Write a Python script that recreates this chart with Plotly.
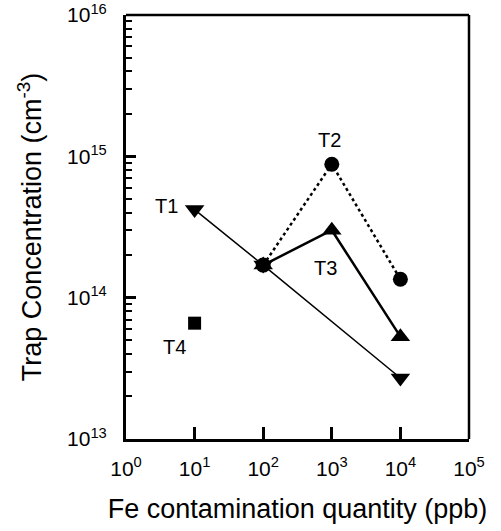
import math
import plotly.graph_objects as go

t1_x = [10, 100, 10000]
t1_y = [4.2e14, 1.7e14, 2.7e13]
t2_x = [100, 1000, 10000]
t2_y = [1.7e14, 8.8e14, 1.35e14]
t3_x = [100, 1000, 10000]
t3_y = [1.7e14, 3.0e14, 5.3e13]
t4_x = [10]
t4_y = [6.6e13]

x_tickvals = [1, 10, 100, 1000, 10000, 100000]
x_ticktext = ["10<sup>0</sup>", "10<sup>1</sup>", "10<sup>2</sup>", "10<sup>3</sup>", "10<sup>4</sup>", "10<sup>5</sup>"]
y_tickvals = [1e13, 1e14, 1e15, 1e16]
y_ticktext = ["10<sup>13</sup>", "10<sup>14</sup>", "10<sup>15</sup>", "10<sup>16</sup>"]

# label text, anchor point (data), pixel shift
labels = [("T1", 10, 4.2e14, -28, 4), ("T2", 1000, 8.8e14, -2, 24),
          ("T3", 1000, 3.0e14, -6, -38), ("T4", 10, 6.6e13, -20, -24)]

fig = go.Figure()
fig.add_trace(go.Scatter(x=t1_x, y=t1_y, mode="lines+markers",
                         line=dict(color="black", width=1.5),
                         marker=dict(symbol="triangle-down", size=17, color="black")))
fig.add_trace(go.Scatter(x=t2_x, y=t2_y, mode="lines+markers",
                         line=dict(color="black", width=2.5, dash="dot"),
                         marker=dict(symbol="circle", size=15, color="black")))
fig.add_trace(go.Scatter(x=t3_x, y=t3_y, mode="lines+markers",
                         line=dict(color="black", width=2.5),
                         marker=dict(symbol="triangle-up", size=17, color="black")))
fig.add_trace(go.Scatter(x=t4_x, y=t4_y, mode="markers",
                         marker=dict(symbol="square", size=13, color="black")))

for txt, x, y, sx, sy in labels:
    fig.add_annotation(x=math.log10(x), y=math.log10(y), xref="x", yref="y", text=txt,
                       showarrow=False, xshift=sx, yshift=sy,
                       font=dict(size=20, color="black"))

fig.update_xaxes(type="log", range=[0, 5], tickvals=x_tickvals, ticktext=x_ticktext,
                 ticks="inside", ticklen=12, tickwidth=2.5, tickcolor="black",
                 showline=True, linecolor="black", linewidth=3, showgrid=False,
                 zeroline=False, tickfont=dict(size=21, color="black"), ticklabelstandoff=9,
                 ticklabeloverflow="allow", automargin=False,
                 title=dict(text="Fe contamination quantity (ppb)", font=dict(size=27, color="black"), standoff=20))
fig.update_yaxes(type="log", range=[13, 16], tickvals=y_tickvals, ticktext=y_ticktext,
                 ticks="inside", ticklen=10, tickwidth=2.5, tickcolor="black",
                 minor=dict(ticks="inside", ticklen=6, tickwidth=2, tickcolor="black", dtick="D1", showgrid=False),
                 showline=True, linecolor="black", linewidth=3, showgrid=False,
                 zeroline=False, tickfont=dict(size=21, color="black"), ticklabelstandoff=12,
                 ticklabeloverflow="allow", automargin=False,
                 title=dict(text="Trap Concentration (cm<sup>-3</sup>)", font=dict(size=27, color="black"), standoff=18))

fig.add_shape(type="line", xref="paper", yref="paper", x0=0, x1=1, y0=1, y1=1,
              line=dict(color="black", width=2.5))
fig.add_shape(type="line", xref="paper", yref="paper", x0=1, x1=1, y0=0, y1=1,
              line=dict(color="black", width=2.5))

fig.update_layout(width=501, height=531, margin=dict(l=126, r=32, t=15, b=92),
                  plot_bgcolor="white", paper_bgcolor="white", showlegend=False,
                  font=dict(family="Liberation Sans, Arial, sans-serif", color="black"))

fig.write_html("out.html")
